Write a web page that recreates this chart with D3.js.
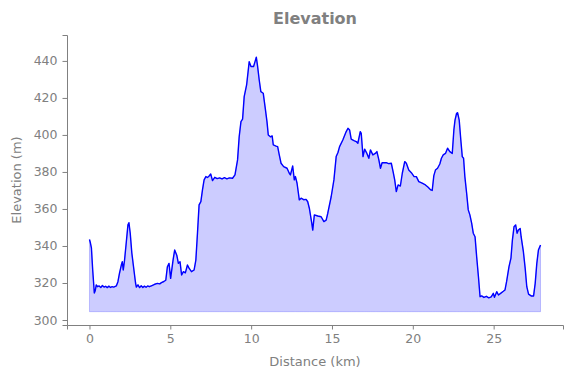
<!DOCTYPE html>
<html>
<head>
<meta charset="utf-8">
<script src="https://cdn.jsdelivr.net/npm/d3@7"></script>
<style>
  body { margin: 0; background: #fff; }
  text { font-family: "DejaVu Sans", sans-serif; }
</style>
</head>
<body>
<div id="chart"></div>
<script>
// distance along the route (km) and elevation (m)
const distKm = [
  0.00, 0.05, 0.12, 0.20, 0.30, 0.36, 0.42, 0.50, 0.60, 0.70, 0.80, 0.90, 1.00, 1.10, 1.20, 1.30, 1.40, 1.50, 1.66, 1.76,
  1.86, 1.97, 2.03, 2.09, 2.17, 2.28, 2.38, 2.44, 2.52, 2.62, 2.75, 2.85, 2.90, 3.00, 3.10, 3.20, 3.30, 3.40, 3.50, 3.60,
  3.70, 3.83, 4.03, 4.20, 4.35, 4.45, 4.60, 4.72, 4.82, 4.92, 5.02, 5.17, 5.27, 5.40, 5.50, 5.60, 5.70, 5.81, 5.93, 6.06,
  6.16, 6.31, 6.47, 6.58, 6.68, 6.78, 6.89, 6.99, 7.09, 7.20, 7.30, 7.40, 7.50, 7.61, 7.75, 7.90, 8.05, 8.20, 8.35, 8.50,
  8.65, 8.85, 9.00, 9.16, 9.26, 9.37, 9.47, 9.57, 9.72, 9.88, 9.99, 10.15, 10.24, 10.32, 10.40, 10.50, 10.60, 10.75, 10.86, 10.98,
  11.06, 11.19, 11.30, 11.37, 11.54, 11.64, 11.74, 11.85, 12.01, 12.22, 12.36, 12.43, 12.57, 12.67, 12.74, 12.84, 12.98, 13.09, 13.25, 13.40,
  13.50, 13.60, 13.75, 13.81, 13.91, 14.12, 14.33, 14.50, 14.64, 14.74, 14.95, 15.12, 15.26, 15.37, 15.47, 15.67, 15.88, 15.99, 16.09, 16.19,
  16.36, 16.50, 16.60, 16.75, 16.81, 16.92, 17.02, 17.16, 17.28, 17.38, 17.53, 17.68, 17.78, 17.90, 18.00, 18.10, 18.36, 18.50, 18.67, 18.78,
  18.88, 18.98, 19.09, 19.23, 19.35, 19.50, 19.60, 19.75, 19.91, 20.08, 20.22, 20.37, 20.58, 20.78, 20.95, 21.11, 21.20, 21.30, 21.40, 21.53,
  21.67, 21.77, 21.88, 22.02, 22.15, 22.29, 22.44, 22.54, 22.61, 22.71, 22.77, 22.87, 22.97, 23.06, 23.14, 23.22, 23.33, 23.43, 23.53, 23.64,
  23.74, 23.85, 23.95, 24.06, 24.16, 24.26, 24.40, 24.55, 24.70, 24.85, 24.98, 25.05, 25.19, 25.30, 25.45, 25.60, 25.70, 25.80, 25.95, 26.07,
  26.16, 26.26, 26.36, 26.45, 26.53, 26.64, 26.70, 26.84, 26.95, 27.05, 27.16, 27.32, 27.47, 27.57, 27.67, 27.77, 27.90
];
const elevM = [
  343.5, 342.0, 339.0, 327.0, 314.6, 316.0, 319.0, 318.0, 318.4, 317.6, 318.6, 317.8, 318.2, 317.5, 318.3, 317.6, 318.0, 317.8, 318.4, 320.7,
  325.4, 329.7, 331.5, 327.0, 332.4, 342.3, 351.4, 352.6, 347.0, 336.2, 327.0, 320.0, 317.8, 319.0, 317.5, 318.5, 317.6, 318.3, 317.7, 318.4,
  318.0, 318.5, 319.3, 319.8, 319.5, 320.2, 320.8, 321.5, 328.8, 330.6, 322.5, 332.4, 337.8, 335.0, 330.6, 331.5, 324.3, 326.1, 325.5, 329.7,
  328.0, 326.1, 327.0, 332.4, 346.9, 362.2, 364.0, 370.3, 375.7, 377.5, 377.0, 377.8, 378.9, 375.3, 377.1, 376.4, 376.8, 376.2, 376.9, 376.3,
  376.8, 376.6, 378.4, 386.5, 399.0, 407.2, 408.5, 420.7, 427.0, 439.6, 437.0, 437.0, 439.6, 442.0, 437.0, 429.7, 423.4, 422.5, 415.3, 407.2,
  400.0, 399.0, 399.5, 394.6, 394.0, 393.7, 389.2, 384.7, 382.9, 382.0, 379.3, 378.4, 383.2, 375.7, 377.5, 373.9, 364.9, 365.8, 365.0, 365.2,
  363.9, 360.4, 352.3, 348.6, 356.8, 356.2, 355.8, 353.2, 354.0, 357.7, 366.6, 375.7, 388.3, 390.5, 393.7, 397.3, 401.8, 403.6, 402.7, 397.7,
  396.9, 396.4, 395.5, 401.8, 400.9, 388.3, 392.3, 390.0, 387.4, 391.9, 389.2, 390.0, 391.0, 386.5, 382.0, 385.0, 385.0, 384.5, 384.7, 380.2,
  375.7, 369.4, 373.0, 372.4, 379.3, 385.6, 384.7, 381.0, 379.6, 377.5, 377.5, 374.8, 373.9, 373.0, 371.7, 370.3, 370.0, 378.0, 381.0, 382.0,
  384.3, 387.4, 389.2, 390.0, 392.8, 391.0, 390.0, 402.7, 408.0, 411.7, 412.0, 408.0, 397.3, 388.3, 387.4, 377.5, 368.5, 359.5, 356.8, 352.3,
  346.9, 345.0, 334.2, 323.4, 312.6, 313.0, 312.2, 312.8, 312.0, 312.5, 314.4, 312.3, 315.3, 313.5, 314.5, 315.5, 316.2, 320.7, 328.8, 333.4,
  343.2, 350.4, 351.4, 346.9, 348.6, 349.5, 345.0, 336.9, 328.0, 318.0, 314.0, 313.0, 313.0, 319.8, 330.6, 337.8, 340.5
];
const xTicks = [0, 5, 10, 15, 20, 25];
const yTicks = [300, 320, 340, 360, 380, 400, 420, 440];
const fillBase = 304.5;

const W = 571, H = 378;
const MARGIN = { TOP: 35, RIGHT: 8, BOTTOM: 53, LEFT: 67 };
const GREY = '#808080';

const data = distKm.map((d, i) => ({ d: d, e: elevM[i] }));

const svg = d3.select('#chart').append('svg')
  .attr('width', W).attr('height', H);

const x = d3.scaleLinear()
  .domain([-1.39, 29.29])
  .range([MARGIN.LEFT, W - MARGIN.RIGHT]);
const y = d3.scaleLinear()
  .domain([297.3, 454])
  .range([H - MARGIN.BOTTOM, MARGIN.TOP]);

// filled profile
svg.append('path')
  .datum(data)
  .attr('fill', 'rgba(0,0,255,0.2)')
  .attr('stroke', 'rgba(0,0,255,0.2)')
  .attr('stroke-width', 1)
  .attr('d', d3.area().x(p => x(p.d)).y0(y(fillBase)).y1(p => y(p.e)));

svg.append('path')
  .datum(data)
  .attr('fill', 'none')
  .attr('stroke', '#0000ff')
  .attr('stroke-width', 1.4)
  .attr('stroke-linejoin', 'round')
  .attr('d', d3.line().x(p => x(p.d)).y(p => y(p.e)));

// axes, only left + bottom spines
const xAxis = svg.append('g')
  .attr('transform', `translate(0, ${H - MARGIN.BOTTOM})`)
  .call(d3.axisBottom(x).tickValues(xTicks).tickSizeOuter(0).tickSize(4.5).tickPadding(5));
const yAxis = svg.append('g')
  .attr('transform', `translate(${MARGIN.LEFT}, 0)`)
  .call(d3.axisLeft(y).tickValues(yTicks).tickSizeOuter(0).tickSize(4.5).tickPadding(5));

[xAxis, yAxis].forEach(g => {
  g.select('.domain').attr('stroke', GREY).attr('stroke-width', 1);
  g.selectAll('.tick line').attr('stroke', GREY).attr('stroke-width', 1);
  g.selectAll('.tick text')
    .attr('fill', GREY)
    .style('font-family', '"DejaVu Sans", sans-serif')
    .style('font-size', '12.5px');
});

const midX = (MARGIN.LEFT + W - MARGIN.RIGHT) / 2;

svg.append('text')
  .attr('x', midX).attr('y', 24)
  .attr('text-anchor', 'middle')
  .attr('fill', GREY)
  .style('font-size', '16px')
  .style('font-weight', 'bold')
  .text('Elevation');

svg.append('text')
  .attr('x', midX).attr('y', 366)
  .attr('text-anchor', 'middle')
  .attr('fill', GREY)
  .style('font-size', '13px')
  .text('Distance (km)');

svg.append('text')
  .attr('transform', `translate(21, ${(MARGIN.TOP + H - MARGIN.BOTTOM) / 2}) rotate(-90)`)
  .attr('text-anchor', 'middle')
  .attr('fill', GREY)
  .style('font-size', '13px')
  .text('Elevation (m)');
</script>
</body>
</html>
